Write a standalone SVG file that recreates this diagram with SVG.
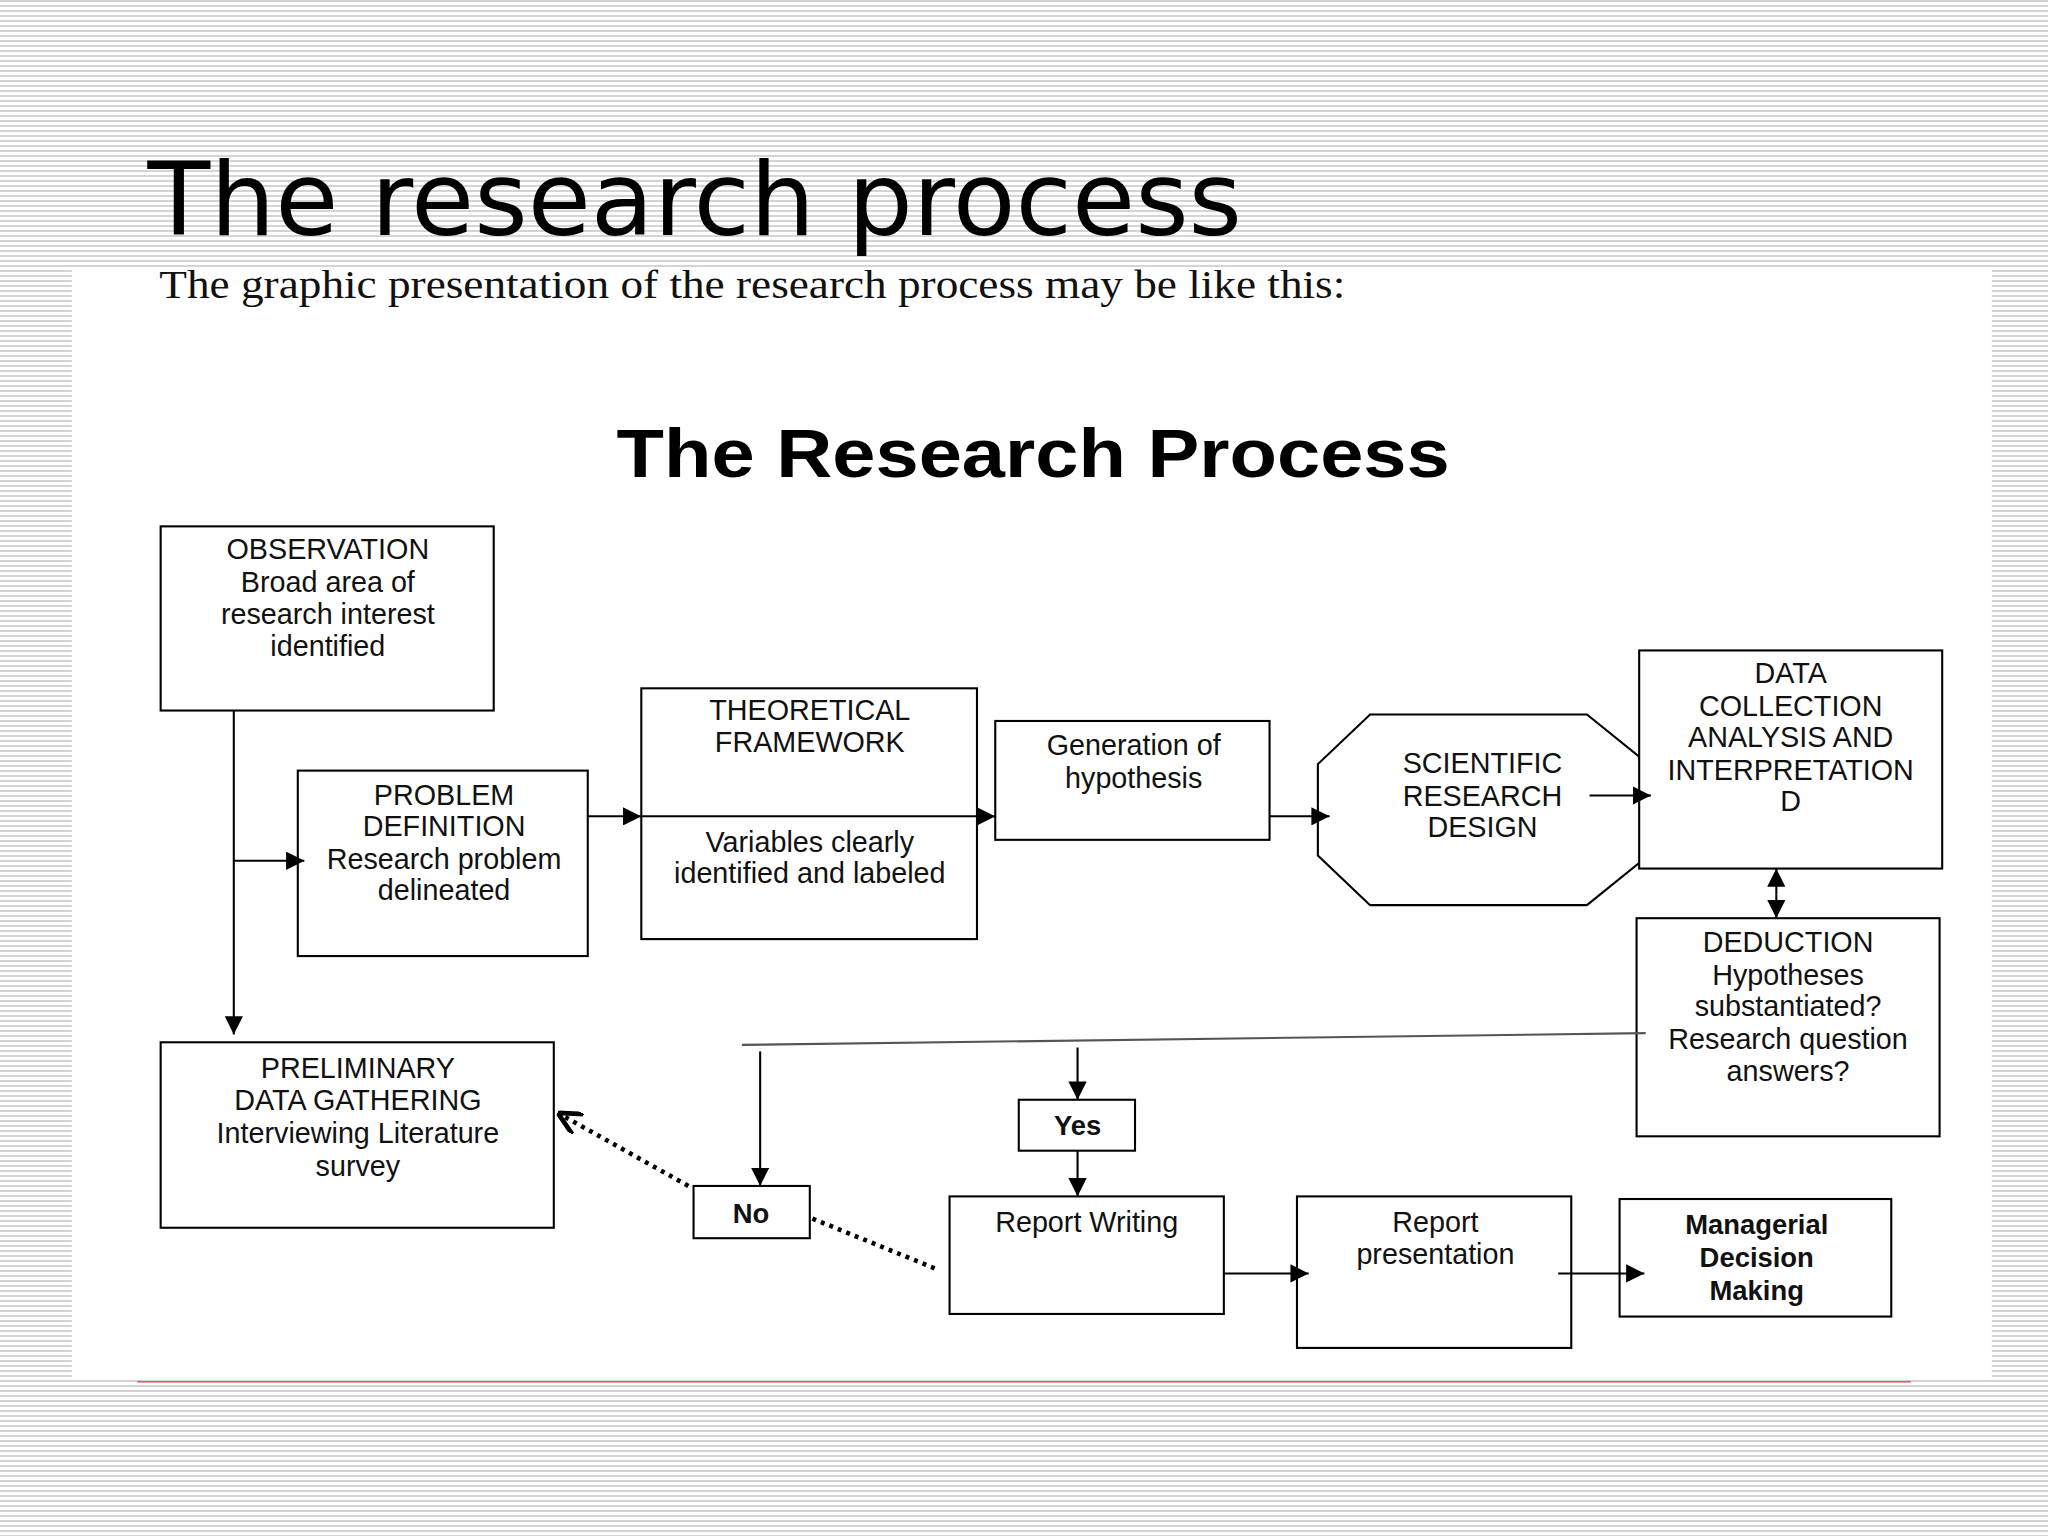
<svg xmlns="http://www.w3.org/2000/svg" width="2048" height="1536" viewBox="0 0 2048 1536">
<defs>
<pattern id="st" width="8" height="5" patternUnits="userSpaceOnUse"><rect width="8" height="5" fill="#fff"/><rect y="0" width="8" height="2" fill="#d4d4d4"/></pattern>
<marker id="a" viewBox="0 0 10 10" refX="10" refY="5" markerWidth="14" markerHeight="14" markerUnits="userSpaceOnUse" orient="auto"><path d="M0,0L10,5L0,10z" fill="#000"/></marker>
<marker id="ao" viewBox="0 0 10 10" refX="10" refY="5" markerWidth="18" markerHeight="18" markerUnits="userSpaceOnUse" orient="auto"><path d="M0,0L10,5L0,10" fill="none" stroke="#000" stroke-width="2"/></marker>
</defs>
<style>
.b{fill:#fff;stroke:#000;stroke-width:1.6}
.t{font-family:"Liberation Sans",Arial,sans-serif;font-size:22px;text-anchor:middle;fill:#111}
.tb{font-family:"Liberation Sans",Arial,sans-serif;font-size:21px;font-weight:bold;text-anchor:middle;fill:#111}
.l{stroke:#000;stroke-width:1.6;fill:none}
</style>
<rect width="2048" height="1536" fill="url(#st)"/>
<g transform="scale(1.30612)">
<rect x="55" y="205" width="1470" height="850" fill="#fff"/>
<line x1="105" y1="1058" x2="1463" y2="1058" stroke="#c44" stroke-width="1"/>
<text x="113" y="180" font-family="DejaVu Sans,sans-serif" font-size="78" fill="#000" textLength="838" lengthAdjust="spacingAndGlyphs">The research process</text>
<text x="122" y="228" font-family="Liberation Serif,serif" font-size="30" fill="#111" textLength="908" lengthAdjust="spacingAndGlyphs">The graphic presentation of the research process may be like this:</text>
<text x="472" y="365" font-family="Liberation Sans,Arial,sans-serif" font-size="52" font-weight="bold" textLength="638" lengthAdjust="spacingAndGlyphs">The Research Process</text>

<g id="observation"><rect class="b" x="123" y="403" width="255" height="141"/>
<text class="t"><tspan x="251" y="428">OBSERVATION</tspan><tspan x="251" y="453">Broad area of</tspan><tspan x="251" y="478">research interest</tspan><tspan x="251" y="502">identified</tspan></text></g>
<g id="problem"><rect class="b" x="228" y="590" width="222" height="142"/>
<text class="t"><tspan x="340" y="616">PROBLEM</tspan><tspan x="340" y="640">DEFINITION</tspan><tspan x="340" y="665">Research problem</tspan><tspan x="340" y="689">delineated</tspan></text></g>
<g id="theoretical"><rect class="b" x="491" y="527" width="257" height="192"/>
<text class="t"><tspan x="620" y="551">THEORETICAL</tspan><tspan x="620" y="576">FRAMEWORK</tspan><tspan x="620" y="652">Variables clearly</tspan><tspan x="620" y="676">identified and labeled</tspan></text></g>
<g id="generation"><rect class="b" x="762" y="552" width="210" height="91"/>
<text class="t"><tspan x="868" y="578">Generation of</tspan><tspan x="868" y="603">hypothesis</tspan></text></g>
<g id="design"><polygon class="b" points="1049,547 1215,547 1262,585 1262,655 1215,693 1049,693 1009,655 1009,585"/>
<text class="t"><tspan x="1135" y="592">SCIENTIFIC</tspan><tspan x="1135" y="617">RESEARCH</tspan><tspan x="1135" y="641">DESIGN</tspan></text></g>
<g id="data"><rect class="b" x="1255" y="498" width="232" height="167"/>
<text class="t"><tspan x="1371" y="523">DATA</tspan><tspan x="1371" y="548">COLLECTION</tspan><tspan x="1371" y="572">ANALYSIS AND</tspan><tspan x="1371" y="597">INTERPRETATION</tspan><tspan x="1371" y="621">D</tspan></text></g>
<g id="deduction"><rect class="b" x="1253" y="703" width="232" height="167"/>
<text class="t"><tspan x="1369" y="729">DEDUCTION</tspan><tspan x="1369" y="754">Hypotheses</tspan><tspan x="1369" y="778">substantiated?</tspan><tspan x="1369" y="803">Research question</tspan><tspan x="1369" y="828">answers?</tspan></text></g>
<g id="preliminary"><rect class="b" x="123" y="798" width="301" height="142"/>
<text class="t"><tspan x="274" y="825">PRELIMINARY</tspan><tspan x="274" y="850">DATA GATHERING</tspan><tspan x="274" y="875">Interviewing Literature</tspan><tspan x="274" y="900">survey</tspan></text></g>
<g id="yes"><rect class="b" x="780" y="842" width="89" height="39"/><text class="tb" x="825" y="869">Yes</text></g>
<g id="no"><rect class="b" x="531" y="908" width="89" height="40"/><text class="tb" x="575" y="936">No</text></g>
<g id="report-writing"><rect class="b" x="727" y="916" width="210" height="90"/><text class="t" x="832" y="943">Report Writing</text></g>
<g id="report-presentation"><rect class="b" x="993" y="916" width="210" height="116"/>
<text class="t"><tspan x="1099" y="943">Report</tspan><tspan x="1099" y="968">presentation</tspan></text></g>
<g id="managerial"><rect class="b" x="1240" y="918" width="208" height="90"/>
<text class="tb"><tspan x="1345" y="945">Managerial</tspan><tspan x="1345" y="970">Decision</tspan><tspan x="1345" y="995">Making</tspan></text></g>

<g id="connectors">
<line class="l" x1="179" y1="544" x2="179" y2="792" marker-end="url(#a)"/>
<line class="l" x1="179" y1="659" x2="233" y2="659" marker-end="url(#a)"/>
<line class="l" x1="450" y1="625" x2="491" y2="625" marker-end="url(#a)"/>
<line class="l" x1="491" y1="625" x2="762" y2="625" marker-end="url(#a)"/>
<line class="l" x1="972" y1="625" x2="1018" y2="625" marker-end="url(#a)"/>
<line class="l" x1="1217" y1="609" x2="1264" y2="609" marker-end="url(#a)"/>
<line class="l" x1="1360" y1="685" x2="1360" y2="703" marker-end="url(#a)"/>
<line class="l" x1="1360" y1="685" x2="1360" y2="665" marker-end="url(#a)"/>
<line x1="1260" y1="791" x2="568" y2="800" stroke="#555" stroke-width="1.6"/>
<line class="l" x1="582" y1="805" x2="582" y2="908" marker-end="url(#a)"/>
<line class="l" x1="825" y1="802" x2="825" y2="842" marker-end="url(#a)"/>
<line class="l" x1="825" y1="881" x2="825" y2="916" marker-end="url(#a)"/>
<line class="l" x1="937" y1="975" x2="1002" y2="975" marker-end="url(#a)"/>
<line class="l" x1="1193" y1="975" x2="1259" y2="975" marker-end="url(#a)"/>
<line x1="527" y1="908" x2="427" y2="852" stroke="#000" stroke-width="3.5" stroke-dasharray="3,4" marker-end="url(#ao)"/>
<line x1="622" y1="933" x2="718" y2="972" stroke="#000" stroke-width="3.5" stroke-dasharray="3,4"/>
</g>
</g>
</svg>
